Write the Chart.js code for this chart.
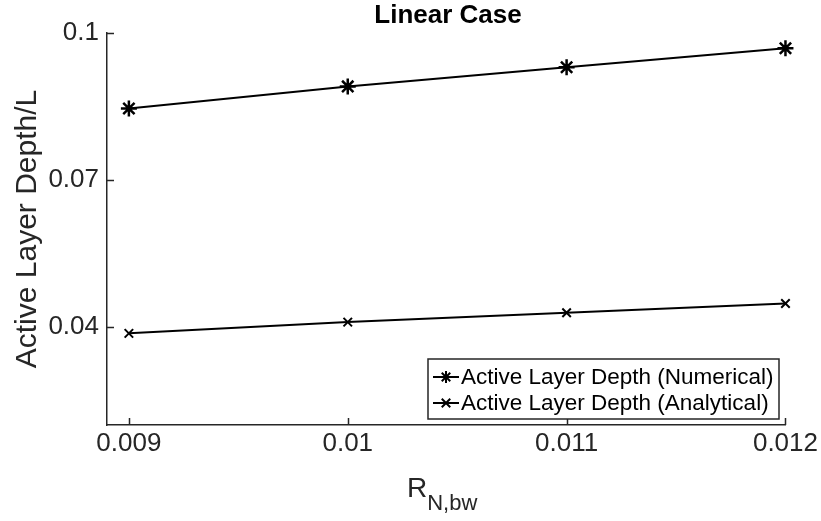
<!DOCTYPE html>
<html>
<head>
<meta charset="utf-8">
<script src="https://cdn.jsdelivr.net/npm/chart.js@4.4.1/dist/chart.umd.min.js"></script>
<style>
  html, body { margin: 0; padding: 0; background: #fff; }
  #wrap { width: 821px; height: 521px; }
</style>
</head>
<body>
<div id="wrap"><canvas id="chart-1" width="821" height="521"></canvas></div>
<script>
// data
const rValues = [0.009, 0.01, 0.011, 0.012];
const numerical = [0.0846, 0.0891, 0.0930, 0.0969];
const analytical = [0.0387, 0.0410, 0.0429, 0.0448];
const xTicks = [0.009, 0.01, 0.011, 0.012];
const yTicks = [0.04, 0.07, 0.1];
const seriesNames = ['Active Layer Depth (Numerical)', 'Active Layer Depth (Analytical)'];

const axisColor = '#262626';
const fontFam = '"Liberation Sans", Arial, Helvetica, sans-serif';

function toPoints(ys) {
  return rValues.map((x, i) => ({ x: x, y: ys[i] }));
}

// ticks pointing inward + title + x label + legend, matlab style
const matlabBits = {
  id: 'matlabBits',
  afterDraw(chart) {
    const c = chart.ctx;
    const xs = chart.scales.x, ys = chart.scales.y;
    const a = chart.chartArea;
    c.save();
    c.strokeStyle = axisColor;
    c.lineWidth = 1.5;
    c.beginPath();
    xTicks.forEach(v => {
      const px = Math.round(xs.getPixelForValue(v)) + 0.5;
      c.moveTo(px, a.bottom);
      c.lineTo(px, a.bottom - 7);
    });
    yTicks.forEach(v => {
      const py = Math.round(ys.getPixelForValue(v)) + 0.5;
      c.moveTo(a.left, py);
      c.lineTo(a.left + 7, py);
    });
    c.stroke();

    // title
    c.fillStyle = '#000';
    c.font = 'bold 26px ' + fontFam;
    c.textAlign = 'center';
    c.textBaseline = 'middle';
    c.fillText('Linear Case', 448, 16);

    // x label with subscript
    c.fillStyle = axisColor;
    c.textAlign = 'left';
    c.textBaseline = 'alphabetic';
    c.font = '28px ' + fontFam;
    c.fillText('R', 407, 497);
    const rw = c.measureText('R').width;
    c.font = '22px ' + fontFam;
    c.fillText('N,bw', 407 + rw, 510);

    // legend
    const lx = 428, ly = 359, lw = 351, lh = 60;
    c.fillStyle = '#fff';
    c.fillRect(lx, ly, lw, lh);
    c.strokeStyle = axisColor;
    c.lineWidth = 1.5;
    c.strokeRect(lx, ly, lw, lh);
    const styles = ['star', 'crossRot'];
    seriesNames.forEach((name, i) => {
      const yy = ly + 18 + i * 26;
      c.strokeStyle = '#000';
      c.lineWidth = 2;
      c.beginPath();
      c.moveTo(lx + 5, yy);
      c.lineTo(lx + 31, yy);
      c.stroke();
      Chart.helpers.drawPoint(c, { pointStyle: styles[i], radius: 6, borderWidth: 2 }, lx + 18, yy);
      c.fillStyle = '#000';
      c.font = '22.5px ' + fontFam;
      c.textBaseline = 'middle';
      c.fillText(name, lx + 33, yy + 1);
    });
    c.restore();
  }
};

const ctx1 = document.getElementById('chart-1').getContext('2d');
const chart1 = new Chart(ctx1, {
  type: 'scatter',
  data: {
    datasets: [
      {
        label: seriesNames[0],
        data: toPoints(numerical),
        showLine: true,
        clip: false,
        borderColor: '#000',
        backgroundColor: '#000',
        borderWidth: 2,
        pointStyle: 'star',
        pointRadius: 8,
        pointBorderWidth: 2.5,
      },
      {
        label: seriesNames[1],
        data: toPoints(analytical),
        showLine: true,
        clip: false,
        borderColor: '#000',
        backgroundColor: '#000',
        borderWidth: 2,
        pointStyle: 'crossRot',
        pointRadius: 6,
        pointBorderWidth: 2,
      },
    ],
  },
  options: {
    responsive: false,
    animation: false,
    layout: { padding: { top: 33, right: 35, left: 0, bottom: 0 } },
    plugins: {
      legend: { display: false },
      tooltip: { enabled: false },
      title: { display: false },
    },
    scales: {
      x: {
        type: 'linear',
        min: 0.0089,
        max: 0.012,
        afterBuildTicks: (s) => { s.ticks = xTicks.map(v => ({ value: v })); },
        afterFit: (s) => { s.height = 96; },
        ticks: {
          color: axisColor,
          font: { family: fontFam, size: 26 },
          padding: 3,
          maxRotation: 0,
          callback: (v) => String(v),
        },
        grid: { display: false, drawTicks: false },
        border: { color: axisColor, width: 1.5 },
      },
      y: {
        type: 'linear',
        min: 0.02,
        max: 0.1,
        afterBuildTicks: (s) => { s.ticks = yTicks.map(v => ({ value: v })); },
        afterFit: (s) => { s.width = 107; },
        ticks: {
          color: axisColor,
          font: { family: fontFam, size: 26 },
          padding: 8,
          callback: (v) => String(v),
        },
        title: {
          display: true,
          text: 'Active Layer Depth/L',
          color: axisColor,
          font: { family: fontFam, size: 30 },
          padding: { top: 10, bottom: 0 },
        },
        grid: { display: false, drawTicks: false },
        border: { color: axisColor, width: 1.5 },
      },
    },
  },
  plugins: [matlabBits],
});
</script>
</body>
</html>
